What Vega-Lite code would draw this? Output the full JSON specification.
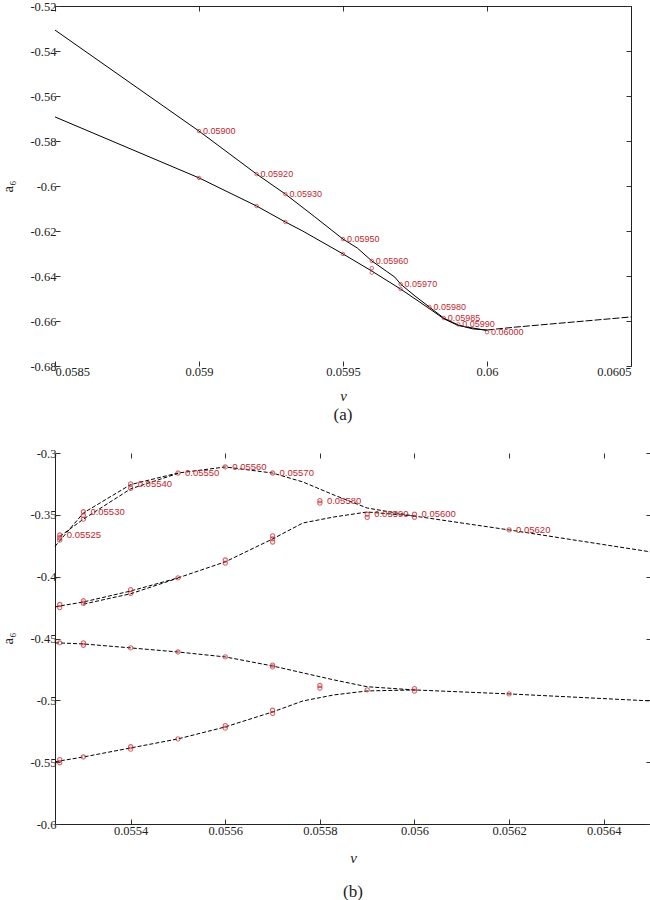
{
  "$schema": "https://vega.github.io/schema/vega-lite/v6.json",
  "background": "white",
  "padding": 0,
  "spacing": 24,
  "config": {
    "view": {"stroke": null},
    "axis": {
      "grid": false,
      "labelFont": "Liberation Serif",
      "labelFontSize": 12.5,
      "labelColor": "#222222",
      "titleFont": "Liberation Serif",
      "titleFontSize": 15,
      "titleFontWeight": "normal",
      "titleColor": "#222222",
      "tickColor": "#333333",
      "domainColor": "#222222",
      "tickSize": -5
    },
    "title": {"font": "Liberation Serif", "fontSize": 17, "fontWeight": "normal", "color": "#222222"}
  },
  "datasets": {
    "a_lines": [
      {"branch": "upper", "nu": 0.0585, "a6": -0.5307},
      {"branch": "upper", "nu": 0.059, "a6": -0.5756},
      {"branch": "upper", "nu": 0.0592, "a6": -0.5947},
      {"branch": "upper", "nu": 0.0593, "a6": -0.6036},
      {"branch": "upper", "nu": 0.0594, "a6": -0.6135},
      {"branch": "upper", "nu": 0.0595, "a6": -0.6236},
      {"branch": "upper", "nu": 0.05955, "a6": -0.6276},
      {"branch": "upper", "nu": 0.0596, "a6": -0.6333},
      {"branch": "upper", "nu": 0.05965, "a6": -0.6378},
      {"branch": "upper", "nu": 0.05968, "a6": -0.6405},
      {"branch": "upper", "nu": 0.0597, "a6": -0.6436},
      {"branch": "upper", "nu": 0.05975, "a6": -0.6489},
      {"branch": "upper", "nu": 0.0598, "a6": -0.6538},
      {"branch": "upper", "nu": 0.05985, "a6": -0.6587},
      {"branch": "upper", "nu": 0.0599, "a6": -0.6618},
      {"branch": "upper", "nu": 0.05995, "a6": -0.6635},
      {"branch": "upper", "nu": 0.06, "a6": -0.664},
      {"branch": "lower", "nu": 0.0585, "a6": -0.5693},
      {"branch": "lower", "nu": 0.059, "a6": -0.5964},
      {"branch": "lower", "nu": 0.0592, "a6": -0.6089},
      {"branch": "lower", "nu": 0.0593, "a6": -0.616},
      {"branch": "lower", "nu": 0.05936, "a6": -0.62},
      {"branch": "lower", "nu": 0.0595, "a6": -0.6302},
      {"branch": "lower", "nu": 0.0596, "a6": -0.6378},
      {"branch": "lower", "nu": 0.0597, "a6": -0.6458},
      {"branch": "lower", "nu": 0.0598, "a6": -0.6545},
      {"branch": "lower", "nu": 0.05985, "a6": -0.659},
      {"branch": "lower", "nu": 0.0599, "a6": -0.662},
      {"branch": "lower", "nu": 0.06, "a6": -0.6642},
      {"branch": "tail", "nu": 0.06, "a6": -0.664},
      {"branch": "tail", "nu": 0.0601, "a6": -0.6627},
      {"branch": "tail", "nu": 0.0605, "a6": -0.6582}
    ],
    "a_pts": [
      {"nu": 0.059, "a6": -0.5756, "label": "0.05900"},
      {"nu": 0.0592, "a6": -0.5947, "label": "0.05920"},
      {"nu": 0.0593, "a6": -0.6036, "label": "0.05930"},
      {"nu": 0.0595, "a6": -0.6236, "label": "0.05950"},
      {"nu": 0.0596, "a6": -0.6333, "label": "0.05960"},
      {"nu": 0.0597, "a6": -0.6436, "label": "0.05970"},
      {"nu": 0.0598, "a6": -0.6538, "label": "0.05980"},
      {"nu": 0.05985, "a6": -0.6587, "label": "0.05985"},
      {"nu": 0.0599, "a6": -0.6615, "label": "0.05990"},
      {"nu": 0.06, "a6": -0.665, "label": "0.06000"},
      {"nu": 0.059, "a6": -0.5964, "label": null},
      {"nu": 0.0592, "a6": -0.6089, "label": null},
      {"nu": 0.0593, "a6": -0.616, "label": null},
      {"nu": 0.0595, "a6": -0.6302, "label": null},
      {"nu": 0.0596, "a6": -0.6365, "label": null},
      {"nu": 0.0596, "a6": -0.6385, "label": null},
      {"nu": 0.0597, "a6": -0.6458, "label": null}
    ],
    "b_lines": [
      {"branch": "b1", "nu": 0.05524, "a6": -0.3755},
      {"branch": "b1", "nu": 0.0553, "a6": -0.3485},
      {"branch": "b1", "nu": 0.0554, "a6": -0.3255},
      {"branch": "b1", "nu": 0.0555, "a6": -0.3162},
      {"branch": "b1", "nu": 0.0556, "a6": -0.3113},
      {"branch": "b1", "nu": 0.0557, "a6": -0.3162},
      {"branch": "b1", "nu": 0.055764, "a6": -0.3234},
      {"branch": "b1", "nu": 0.05583, "a6": -0.334},
      {"branch": "b1", "nu": 0.0559, "a6": -0.3445},
      {"branch": "b1", "nu": 0.056, "a6": -0.351},
      {"branch": "b1", "nu": 0.0562, "a6": -0.3622},
      {"branch": "b1", "nu": 0.0565, "a6": -0.38},
      {"branch": "b1x", "nu": 0.05525, "a6": -0.3675},
      {"branch": "b1x", "nu": 0.0553, "a6": -0.3535},
      {"branch": "b1x", "nu": 0.0554, "a6": -0.329},
      {"branch": "b1x", "nu": 0.0555, "a6": -0.3165},
      {"branch": "b2", "nu": 0.05524, "a6": -0.4245},
      {"branch": "b2", "nu": 0.05525, "a6": -0.4237},
      {"branch": "b2", "nu": 0.0553, "a6": -0.4205},
      {"branch": "b2", "nu": 0.0554, "a6": -0.4116},
      {"branch": "b2", "nu": 0.0555, "a6": -0.401},
      {"branch": "b2", "nu": 0.0556, "a6": -0.388},
      {"branch": "b2", "nu": 0.0557, "a6": -0.3695},
      {"branch": "b2", "nu": 0.055764, "a6": -0.3566},
      {"branch": "b2", "nu": 0.05583, "a6": -0.3517},
      {"branch": "b2", "nu": 0.0559, "a6": -0.3477},
      {"branch": "b2", "nu": 0.056, "a6": -0.351},
      {"branch": "b2x", "nu": 0.0553, "a6": -0.4222},
      {"branch": "b2x", "nu": 0.0554, "a6": -0.4138},
      {"branch": "b2x", "nu": 0.0555, "a6": -0.4012},
      {"branch": "b3", "nu": 0.05524, "a6": -0.4536},
      {"branch": "b3", "nu": 0.05525, "a6": -0.4536},
      {"branch": "b3", "nu": 0.0553, "a6": -0.4544},
      {"branch": "b3", "nu": 0.0554, "a6": -0.4576},
      {"branch": "b3", "nu": 0.0555, "a6": -0.4609},
      {"branch": "b3", "nu": 0.0556, "a6": -0.4649},
      {"branch": "b3", "nu": 0.0557, "a6": -0.4722},
      {"branch": "b3", "nu": 0.055764, "a6": -0.4778},
      {"branch": "b3", "nu": 0.05583, "a6": -0.4835},
      {"branch": "b3", "nu": 0.0559, "a6": -0.489},
      {"branch": "b3", "nu": 0.056, "a6": -0.4916},
      {"branch": "b3", "nu": 0.0562, "a6": -0.4948},
      {"branch": "b3", "nu": 0.0565, "a6": -0.5005},
      {"branch": "b4", "nu": 0.05524, "a6": -0.5498},
      {"branch": "b4", "nu": 0.05525, "a6": -0.549},
      {"branch": "b4", "nu": 0.0553, "a6": -0.5458},
      {"branch": "b4", "nu": 0.0554, "a6": -0.5385},
      {"branch": "b4", "nu": 0.0555, "a6": -0.5312},
      {"branch": "b4", "nu": 0.0556, "a6": -0.5215},
      {"branch": "b4", "nu": 0.0557, "a6": -0.5094},
      {"branch": "b4", "nu": 0.055764, "a6": -0.5005},
      {"branch": "b4", "nu": 0.05583, "a6": -0.4956},
      {"branch": "b4", "nu": 0.0559, "a6": -0.4924},
      {"branch": "b4", "nu": 0.056, "a6": -0.4916}
    ],
    "b_pts": [
      {"nu": 0.05525, "a6": -0.3663, "label": "0.05525"},
      {"nu": 0.05525, "a6": -0.3685, "label": null},
      {"nu": 0.05525, "a6": -0.3705, "label": null},
      {"nu": 0.0553, "a6": -0.3475, "label": "0.05530"},
      {"nu": 0.0553, "a6": -0.3505, "label": null},
      {"nu": 0.0553, "a6": -0.3535, "label": null},
      {"nu": 0.0554, "a6": -0.325, "label": "0.05540"},
      {"nu": 0.0554, "a6": -0.3285, "label": null},
      {"nu": 0.0555, "a6": -0.3162, "label": "0.05550"},
      {"nu": 0.0556, "a6": -0.3113, "label": "0.05560"},
      {"nu": 0.0557, "a6": -0.3162, "label": "0.05570"},
      {"nu": 0.0558, "a6": -0.3385, "label": "0.05580"},
      {"nu": 0.0558, "a6": -0.3405, "label": null},
      {"nu": 0.0559, "a6": -0.3495, "label": "0.05590"},
      {"nu": 0.0559, "a6": -0.352, "label": null},
      {"nu": 0.056, "a6": -0.3495, "label": "0.05600"},
      {"nu": 0.056, "a6": -0.352, "label": null},
      {"nu": 0.0562, "a6": -0.3622, "label": "0.05620"},
      {"nu": 0.05525, "a6": -0.4225, "label": null},
      {"nu": 0.05525, "a6": -0.425, "label": null},
      {"nu": 0.0553, "a6": -0.4195, "label": null},
      {"nu": 0.0553, "a6": -0.4215, "label": null},
      {"nu": 0.0554, "a6": -0.4105, "label": null},
      {"nu": 0.0554, "a6": -0.4135, "label": null},
      {"nu": 0.0555, "a6": -0.401, "label": null},
      {"nu": 0.0556, "a6": -0.3865, "label": null},
      {"nu": 0.0556, "a6": -0.389, "label": null},
      {"nu": 0.0557, "a6": -0.367, "label": null},
      {"nu": 0.0557, "a6": -0.3695, "label": null},
      {"nu": 0.0557, "a6": -0.372, "label": null},
      {"nu": 0.05525, "a6": -0.4536, "label": null},
      {"nu": 0.0553, "a6": -0.4535, "label": null},
      {"nu": 0.0553, "a6": -0.4555, "label": null},
      {"nu": 0.0554, "a6": -0.4576, "label": null},
      {"nu": 0.0555, "a6": -0.4609, "label": null},
      {"nu": 0.0556, "a6": -0.4649, "label": null},
      {"nu": 0.0557, "a6": -0.4715, "label": null},
      {"nu": 0.0557, "a6": -0.473, "label": null},
      {"nu": 0.0558, "a6": -0.488, "label": null},
      {"nu": 0.0558, "a6": -0.4902, "label": null},
      {"nu": 0.0559, "a6": -0.4916, "label": null},
      {"nu": 0.056, "a6": -0.4905, "label": null},
      {"nu": 0.056, "a6": -0.4925, "label": null},
      {"nu": 0.0562, "a6": -0.4948, "label": null},
      {"nu": 0.05525, "a6": -0.548, "label": null},
      {"nu": 0.05525, "a6": -0.5505, "label": null},
      {"nu": 0.0553, "a6": -0.5458, "label": null},
      {"nu": 0.0554, "a6": -0.5375, "label": null},
      {"nu": 0.0554, "a6": -0.5395, "label": null},
      {"nu": 0.0555, "a6": -0.5312, "label": null},
      {"nu": 0.0556, "a6": -0.5205, "label": null},
      {"nu": 0.0556, "a6": -0.5225, "label": null},
      {"nu": 0.0557, "a6": -0.508, "label": null},
      {"nu": 0.0557, "a6": -0.5105, "label": null}
    ]
  },
  "vconcat": [
    {
      "width": 576,
      "height": 360,
      "title": {"text": "(a)", "orient": "bottom", "offset": 4},
      "layer": [
        {
          "data": {"name": "a_lines"},
          "transform": [{"filter": "datum.branch != 'tail'"}],
          "mark": {"type": "line", "color": "black", "strokeWidth": 1},
          "encoding": {
            "x": {"field": "nu", "type": "quantitative", "scale": {"domain": [0.0585, 0.0605], "zero": false, "nice": false},
              "axis": {"orient": "bottom", "domain": false, "values": [0.0585, 0.059, 0.0595, 0.06, 0.0605], "labelExpr": "'' + datum.value", "labelFont": "Liberation Serif", "labelPadding": 4, "title": "ν", "titleFont": "Liberation Serif", "titleFontStyle": "italic", "titleY": 22}},
            "y": {"field": "a6", "type": "quantitative", "scale": {"domain": [-0.68, -0.52], "zero": false, "nice": false},
              "axis": {"orient": "left", "domain": false, "values": [-0.52, -0.54, -0.56, -0.58, -0.6, -0.62, -0.64, -0.66, -0.68], "labelExpr": "'' + datum.value", "labelFont": "Liberation Serif", "labelPadding": 4, "title": "a₆", "titleFont": "Liberation Serif", "titleX": -40, "titleY": 180}},
            "detail": {"field": "branch"}
          }
        },
        {
          "data": {"name": "a_lines"},
          "transform": [{"filter": "datum.branch == 'tail'"}],
          "mark": {"type": "line", "color": "black", "strokeWidth": 1, "strokeDash": [7, 2]},
          "encoding": {
            "x": {"field": "nu", "type": "quantitative",
              "axis": {"orient": "top", "domain": true, "labels": false, "title": null, "values": [0.0585, 0.059, 0.0595, 0.06, 0.0605]}},
            "y": {"field": "a6", "type": "quantitative",
              "axis": {"orient": "right", "domain": true, "labels": false, "title": null, "values": [-0.52, -0.54, -0.56, -0.58, -0.6, -0.62, -0.64, -0.66, -0.68]}}
          }
        },
        {
          "data": {"name": "a_pts"},
          "mark": {"type": "point", "shape": "circle", "filled": false, "size": 12, "strokeWidth": 1, "color": "#c0272d"},
          "encoding": {
            "x": {"field": "nu", "type": "quantitative", "axis": null},
            "y": {"field": "a6", "type": "quantitative", "axis": null}
          }
        },
        {
          "data": {"name": "a_pts"},
          "transform": [{"filter": "datum.label != null"}],
          "mark": {"type": "text", "align": "left", "baseline": "middle", "dx": 4, "font": "Liberation Sans", "fontSize": 9, "color": "#c0272d"},
          "encoding": {
            "x": {"field": "nu", "type": "quantitative", "axis": null},
            "y": {"field": "a6", "type": "quantitative", "axis": null},
            "text": {"field": "label"}
          }
        }
      ],
      "resolve": {"axis": {"x": "independent", "y": "independent"}}
    },
    {
      "width": 596,
      "height": 371,
      "title": {"text": "(b)", "orient": "bottom", "offset": 19},
      "layer": [
        {
          "data": {"name": "b_lines"},
          "mark": {"type": "line", "color": "black", "strokeWidth": 1, "strokeDash": [4, 2]},
          "encoding": {
            "x": {"field": "nu", "type": "quantitative", "scale": {"domain": [0.05524, 0.0565], "zero": false, "nice": false},
              "axis": {"orient": "bottom", "domain": true, "values": [0.0554, 0.0556, 0.0558, 0.056, 0.0562, 0.0564], "labelExpr": "'' + datum.value", "labelFont": "Liberation Serif", "labelPadding": 5, "title": "ν", "titleFont": "Liberation Serif", "titleFontStyle": "italic", "titleY": 26}},
            "y": {"field": "a6", "type": "quantitative", "scale": {"domain": [-0.6, -0.3], "zero": false, "nice": false},
              "axis": {"orient": "left", "domain": true, "values": [-0.3, -0.35, -0.4, -0.45, -0.5, -0.55, -0.6], "labelExpr": "'' + datum.value", "labelFont": "Liberation Serif", "labelPadding": 4, "title": "a₆", "titleFont": "Liberation Serif", "titleX": -40, "titleY": 185}},
            "detail": {"field": "branch"}
          }
        },
        {
          "data": {"name": "b_pts"},
          "mark": {"type": "point", "shape": "circle", "filled": false, "size": 18, "strokeWidth": 1.1, "color": "#c0272d"},
          "encoding": {
            "x": {"field": "nu", "type": "quantitative",
              "axis": {"orient": "top", "domain": false, "labels": false, "title": null, "values": [0.0554, 0.0556, 0.0558, 0.056, 0.0562, 0.0564]}},
            "y": {"field": "a6", "type": "quantitative",
              "axis": {"orient": "right", "domain": true, "labels": false, "title": null, "values": [-0.3, -0.35, -0.4, -0.45, -0.5, -0.55, -0.6]}}
          }
        },
        {
          "data": {"name": "b_pts"},
          "transform": [{"filter": "datum.label != null"}],
          "mark": {"type": "text", "align": "left", "baseline": "middle", "dx": 7, "font": "Liberation Sans", "fontSize": 9.5, "color": "#c0272d"},
          "encoding": {
            "x": {"field": "nu", "type": "quantitative", "axis": null},
            "y": {"field": "a6", "type": "quantitative", "axis": null},
            "text": {"field": "label"}
          }
        }
      ],
      "resolve": {"axis": {"x": "independent", "y": "independent"}}
    }
  ]
}
